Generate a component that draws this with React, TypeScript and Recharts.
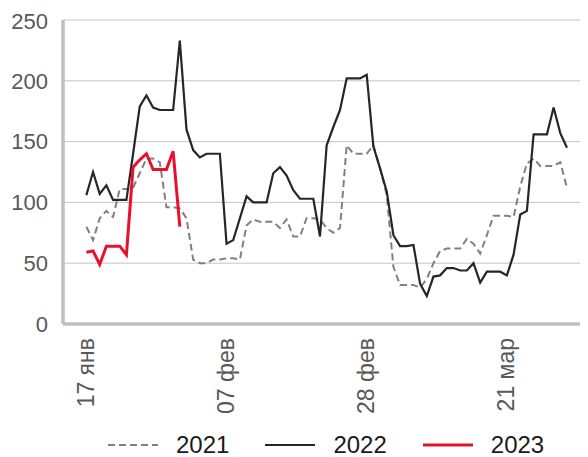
import React from 'react';
import { LineChart, Line, XAxis, YAxis, CartesianGrid, Legend } from 'recharts';

// Categories: daily, 14 Jan .. 03 Apr
const categories: string[] = [
  '14 янв','15 янв','16 янв','17 янв','18 янв','19 янв','20 янв','21 янв','22 янв','23 янв',
  '24 янв','25 янв','26 янв','27 янв','28 янв','29 янв','30 янв','31 янв',
  '01 фев','02 фев','03 фев','04 фев','05 фев','06 фев','07 фев','08 фев','09 фев','10 фев',
  '11 фев','12 фев','13 фев','14 фев','15 фев','16 фев','17 фев','18 фев','19 фев','20 фев',
  '21 фев','22 фев','23 фев','24 фев','25 фев','26 фев','27 фев','28 фев',
  '01 мар','02 мар','03 мар','04 мар','05 мар','06 мар','07 мар','08 мар','09 мар','10 мар',
  '11 мар','12 мар','13 мар','14 мар','15 мар','16 мар','17 мар','18 мар','19 мар','20 мар',
  '21 мар','22 мар','23 мар','24 мар','25 мар','26 мар','27 мар','28 мар','29 мар','30 мар',
  '31 мар','01 апр','02 апр','03 апр',
];

const xTickLabels: string[] = ['17 янв', '07 фев', '28 фев', '21 мар'];
const yTicks: number[] = [0, 50, 100, 150, 200, 250];

const values2021: (number | null)[] = [
  null, null, null,
  80, 69, 87, 93, 88, 111, 111, 112, 124, 136,
  136, 133, 96, 96, 95, 87, 53, 50, 50, 53,
  53, 54, 54, 53, 81, 86, 84, 84, 84, 79,
  86, 72, 72, 87, 87, 86, 79, 75, 79, 147,
  140, 140, 140, 147, 128, 106, 47, 32, 32, 32,
  30, 37, 50, 60, 62, 62, 62, 70, 66, 58,
  73, 89, 89, 89, 88, 113, 132, 136, 130, 130,
  130, 133, 112,
];

const values2022: (number | null)[] = [
  null, null, null,
  106, 125, 107, 114, 102, 102, 102, 140, 179, 188,
  178, 176, 176, 176, 233, 160, 143, 137, 140, 140,
  140, 66, 69, 87, 105, 100, 100, 100, 124, 129,
  122, 110, 103, 103, 103, 72, 147, 162, 176, 202,
  202, 202, 205, 146, 128, 109, 73, 64, 64, 65,
  33, 23, 39, 40, 46, 46, 44, 44, 50, 34,
  43, 43, 43, 40, 57, 90, 93, 156, 156, 156,
  178, 157, 145,
];

const values2023: (number | null)[] = [
  null, null, null,
  59, 60, 49, 64, 64, 64, 57, 129, 135, 140,
  127, 127, 127, 142, 80,
];

const seriesNames: string[] = ['2021', '2022', '2023'];

const seriesStyle = [
  { key: 'y2021', color: '#808080', width: 2, dash: '7 4' },
  { key: 'y2022', color: '#262626', width: 2.2, dash: undefined as string | undefined },
  { key: 'y2023', color: '#e8112d', width: 3, dash: undefined as string | undefined },
];

const data = categories.map((c, i) => ({
  idx: i,
  label: c,
  y2021: values2021[i] ?? null,
  y2022: values2022[i] ?? null,
  y2023: values2023[i] ?? null,
}));

const xTicks = xTickLabels.map((l) => categories.indexOf(l));

const FONT = '"Liberation Sans", Arial, sans-serif';

const XTick = (props: any) => {
  const { x, y, payload } = props;
  return (
    <g transform={`translate(${x},${y})`}>
      <text
        transform="rotate(-90)"
        x={-14}
        y={0}
        dy="0.33em"
        textAnchor="end"
        fill="#595959"
        fontSize={23}
        fontFamily={FONT}
      >
        {categories[payload.value]}
      </text>
    </g>
  );
};

const renderLegend = () => (
  <div
    style={{
      height: 30,
      boxSizing: 'border-box',
      paddingTop: 6,
      paddingLeft: 100,
      display: 'flex',
      alignItems: 'center',
      fontFamily: FONT,
      fontSize: 24,
      color: '#1a1a1a',
    }}
  >
    {seriesStyle.map((s, i) => (
      <div key={s.key} style={{ display: 'flex', alignItems: 'center', height: 24, marginRight: 36 }}>
        <svg width={50} height={6} style={{ marginRight: 18, display: 'block' }}>
          <line x1={0} y1={3} x2={50} y2={3} stroke={s.color} strokeWidth={s.width} strokeDasharray={s.dash} />
        </svg>
        <span style={{ lineHeight: '24px' }}>{seriesNames[i]}</span>
      </div>
    ))}
  </div>
);

export default function App() {
  return (
    <div style={{ width: 580, height: 449, overflow: 'hidden' }}>
      <LineChart
        width={600}
        height={449}
        data={data}
        margin={{ top: 12, right: 11, bottom: 0, left: 0 }}
        style={{ fontFamily: FONT }}
      >
        <CartesianGrid vertical={false} stroke="#c4c4c4" strokeWidth={1} />
        <XAxis
          dataKey="idx"
          type="number"
          domain={[-0.5, 79.5]}
          ticks={xTicks}
          interval={0}
          height={103}
          tickLine={false}
          tickSize={0}
          tickMargin={0}
          axisLine={{ stroke: '#bfbfbf', strokeWidth: 3.5 }}
          tick={<XTick />}
          allowDataOverflow
        />
        <YAxis
          type="number"
          domain={[0, 250]}
          ticks={yTicks}
          width={55}
          tickLine={false}
          tickSize={0}
          tickMargin={15}
          axisLine={{ stroke: '#bfbfbf', strokeWidth: 3.5 }}
          tick={{ fill: '#595959', fontSize: 22, fontFamily: FONT }}
        />
        <Legend verticalAlign="bottom" content={renderLegend} wrapperStyle={{ left: 0, width: 600 }} />
        {seriesStyle.map((s, i) => (
          <Line
            key={s.key}
            dataKey={s.key}
            name={seriesNames[i]}
            type="linear"
            stroke={s.color}
            strokeWidth={s.width}
            strokeDasharray={s.dash}
            dot={false}
            activeDot={false}
            connectNulls={false}
            isAnimationActive={false}
          />
        ))}
      </LineChart>
    </div>
  );
}
